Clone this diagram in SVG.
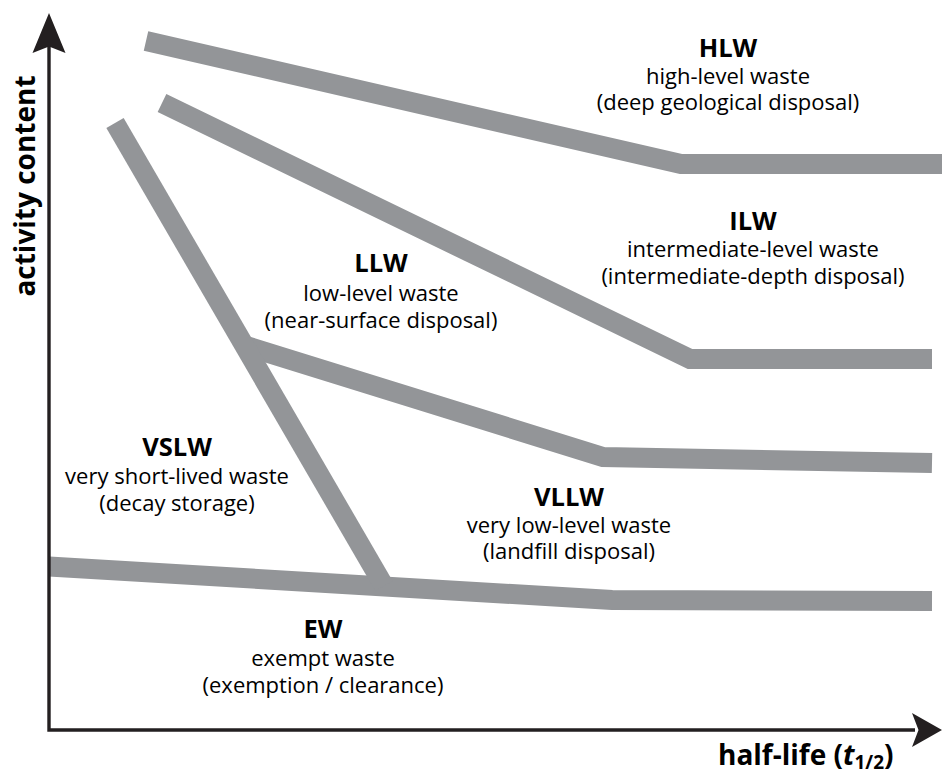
<svg xmlns="http://www.w3.org/2000/svg" width="942" height="776" viewBox="0 0 942 776">
<style>
.band{fill:none;stroke:#939598;stroke-width:20;stroke-linejoin:miter;stroke-linecap:butt}
.axis{fill:none;stroke:#231f20;stroke-width:3.4}
.head{fill:#231f20}
.t{font-family:"Open Sans","Liberation Sans",sans-serif;fill:#000;text-anchor:middle}
.b{font-weight:bold;font-size:25.5px}
.r{font-size:22px}
.ax{font-family:"Open Sans","Liberation Sans",sans-serif;font-weight:bold;font-size:28px;fill:#000}
</style>
<rect width="942" height="776" fill="#fff"/>
<g id="bands">
<polyline class="band" points="146,41 681,164 942,164"/>
<polyline class="band" points="162,103 690,359 932,359"/>
<polyline class="band" points="243,345 603,457 932,463"/>
<polyline class="band" points="49,566.5 612,600 932,601"/>
<polyline class="band" points="115,123 384,586"/>
</g>
<g id="axes">
<path class="axis" d="M49,40 V730 H915"/>
<path class="head" d="M49,13 L65.5,53 L49,46.5 L32.5,53 Z"/>
<path class="head" d="M942,730 L912,713 L918.5,730 L912,747 Z"/>
<text class="ax" transform="translate(35,186) rotate(-90)" text-anchor="middle">activity content</text>
<text class="ax" x="718" y="765">half-life (<tspan font-style="italic">t</tspan><tspan font-size="19px" dy="4">1/2</tspan><tspan dy="-4">)</tspan></text>
</g>
<g id="HLW">
<text class="t b" x="728" y="57">HLW</text>
<text class="t r" x="728" y="84">high-level waste</text>
<text class="t r" x="728" y="110">(deep geological disposal)</text>
</g>
<g id="ILW">
<text class="t b" x="753" y="230">ILW</text>
<text class="t r" x="753" y="257">intermediate-level waste</text>
<text class="t r" x="753" y="284">(intermediate-depth disposal)</text>
</g>
<g id="LLW">
<text class="t b" x="381" y="272">LLW</text>
<text class="t r" x="381" y="301">low-level waste</text>
<text class="t r" x="381" y="328">(near-surface disposal)</text>
</g>
<g id="VSLW">
<text class="t b" x="177" y="456">VSLW</text>
<text class="t r" x="177" y="484">very short-lived waste</text>
<text class="t r" x="177" y="511">(decay storage)</text>
</g>
<g id="VLLW">
<text class="t b" x="569" y="506">VLLW</text>
<text class="t r" x="569" y="533">very low-level waste</text>
<text class="t r" x="569" y="559">(landfill disposal)</text>
</g>
<g id="EW">
<text class="t b" x="323" y="638">EW</text>
<text class="t r" x="323" y="666">exempt waste</text>
<text class="t r" x="323" y="693">(exemption / clearance)</text>
</g>
</svg>
